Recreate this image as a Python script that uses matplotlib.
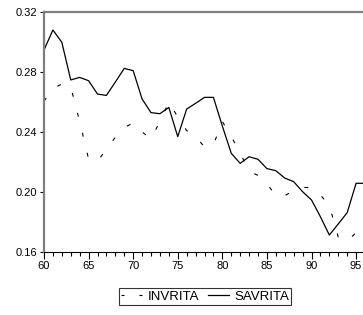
import matplotlib
matplotlib.use("Agg")
import matplotlib.pyplot as plt
from matplotlib.lines import Line2D
from matplotlib.ticker import MultipleLocator, FixedLocator

plt.rcParams['font.family'] = ['Liberation Sans', 'DejaVu Sans']

years = list(range(60, 97))
savrita = [0.2947, 0.3080, 0.2998, 0.2747, 0.2764, 0.2742, 0.2653, 0.2644, 0.2733,
           0.2824, 0.2809, 0.2620, 0.2529, 0.2522, 0.2564, 0.2369, 0.2553, 0.2591,
           0.2631, 0.2631, 0.2440, 0.2258, 0.2191, 0.2235, 0.2218, 0.2156, 0.2142,
           0.2093, 0.2069, 0.2002, 0.1947, 0.1835, 0.1713, 0.1787, 0.1862, 0.2058,
           0.2058]
invrita = [0.2605, 0.2690, 0.2720, 0.2700, 0.2470, 0.2220, 0.2205, 0.2285, 0.2365,
           0.2430, 0.2460, 0.2400, 0.2355, 0.2470, 0.2600, 0.2500, 0.2410, 0.2370,
           0.2300, 0.2315, 0.2470, 0.2370, 0.2260, 0.2140, 0.2110, 0.2055, 0.1975,
           0.1975, 0.2010, 0.2030, 0.2030, 0.1980, 0.1910, 0.1700, 0.1670, 0.1730,
           0.1740]
series_names = ['INVRITA', 'SAVRITA']
yticks = [0.16, 0.20, 0.24, 0.28, 0.32]
xticks = [60, 65, 70, 75, 80, 85, 90, 95]

W, H = 363, 315
fig = plt.figure(figsize=(W / 100, H / 100), dpi=100)
ax = fig.add_axes([44 / W, 1 - 252 / H, 321 / W, 240 / H])

ax.plot(years, invrita, color='black', lw=0.8, ls=(0, (3.5, 15)))
ax.plot(years, savrita, color='black', lw=0.9)

ax.set_xlim(60, 96)
ax.set_ylim(0.16, 0.32)
ax.xaxis.set_major_locator(FixedLocator(xticks))
ax.xaxis.set_minor_locator(MultipleLocator(1))
ax.yaxis.set_major_locator(FixedLocator(yticks))
ax.set_xticklabels([str(t) for t in xticks])
ax.set_yticklabels([f"{t:.2f}" for t in yticks])
ax.tick_params(axis='both', which='major', direction='out', labelsize=8, width=0.8,
               color='black')
ax.tick_params(axis='x', which='major', length=5, pad=1.5)
ax.tick_params(axis='x', which='minor', length=3, width=0.8)
ax.tick_params(axis='y', which='major', length=3, pad=2)

for s in ['left', 'top']:
    ax.spines[s].set_color('#7f7f7f')
    ax.spines[s].set_linewidth(1.6)
ax.spines['bottom'].set_color('black')
ax.spines['bottom'].set_linewidth(0.8)
ax.spines['right'].set_visible(False)

handles = [Line2D([], [], color='black', lw=0.8, ls=(0, (2.7, 13.5))),
           Line2D([], [], color='black', lw=0.9)]
leg = fig.legend(handles, series_names, loc='center',
                 bbox_to_anchor=(205 / W, 1 - 296.5 / H), ncol=2,
                 fontsize=9.5, frameon=True, fancybox=False, handlelength=1.6,
                 handletextpad=0.38, columnspacing=0.68, borderpad=0.2,
                 borderaxespad=0)
leg.get_frame().set_edgecolor('black')
leg.get_frame().set_linewidth(0.8)

fig.savefig('out.png', dpi=100)
